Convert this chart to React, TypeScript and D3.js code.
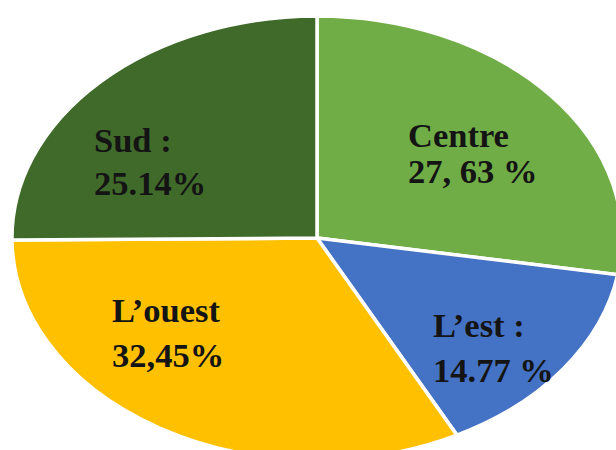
import React, { useMemo } from "react";
import * as d3 from "d3";

const WIDTH = 616;
const HEIGHT = 450;

// slices, clockwise from 12 o'clock
const regions = ["Centre", "L’est", "L’ouest", "Sud"];
const shares = [27.63, 14.77, 32.45, 25.14];
const colors = ["#70ad47", "#4472c4", "#ffc000", "#3f6a2a"];
const labelLine1 = ["Centre", "L’est :", "L’ouest", "Sud :"];
const labelLine2 = ["27, 63 %", "14.77 %", "32,45%", "25.14%"];

// ellipse geometry (pie is stretched)
const CX = 317;
const CY = 238;
const RX = 305;
const RY = 222;

// label anchors relative to the pie centre (left aligned, first baseline)
const LABEL_POS = [
  { dx: 91, dy: -91, gap: 36 },
  { dx: 116, dy: 99, gap: 45 },
  { dx: -205, dy: 84, gap: 45 },
  { dx: -223, dy: -86, gap: 43 },
];

export default function App() {
  const arcs = useMemo(() => {
    const pie = d3
      .pie<number>()
      .sort(null)
      .value((d) => d);
    return pie(shares);
  }, []);

  const arcGen = d3.arc<d3.PieArcDatum<number>>().innerRadius(0).outerRadius(1);

  return (
    <svg
      width={WIDTH}
      height={HEIGHT}
      style={{ position: "absolute", left: 0, top: 0, background: "#fff" }}
    >
      <g transform={`translate(${CX},${CY}) scale(${RX},${RY})`}>
        {arcs.map((a, i) => (
          <path
            key={regions[i]}
            d={arcGen(a) || ""}
            fill={colors[i]}
            stroke="#fff"
            strokeWidth={3.5}
            vectorEffect="non-scaling-stroke"
          />
        ))}
      </g>
      <g
        transform={`translate(${CX},${CY})`}
        style={{
          fontFamily: '"Liberation Serif", "Times New Roman", serif',
          fontWeight: 700,
          fontSize: "34.5px",
        }}
        fill="#141414"
      >
        {regions.map((r, i) => (
          <text key={r} x={LABEL_POS[i].dx} y={LABEL_POS[i].dy}>
            <tspan x={LABEL_POS[i].dx}>{labelLine1[i]}</tspan>
            <tspan x={LABEL_POS[i].dx} dy={LABEL_POS[i].gap}>
              {labelLine2[i]}
            </tspan>
          </text>
        ))}
      </g>
    </svg>
  );
}
